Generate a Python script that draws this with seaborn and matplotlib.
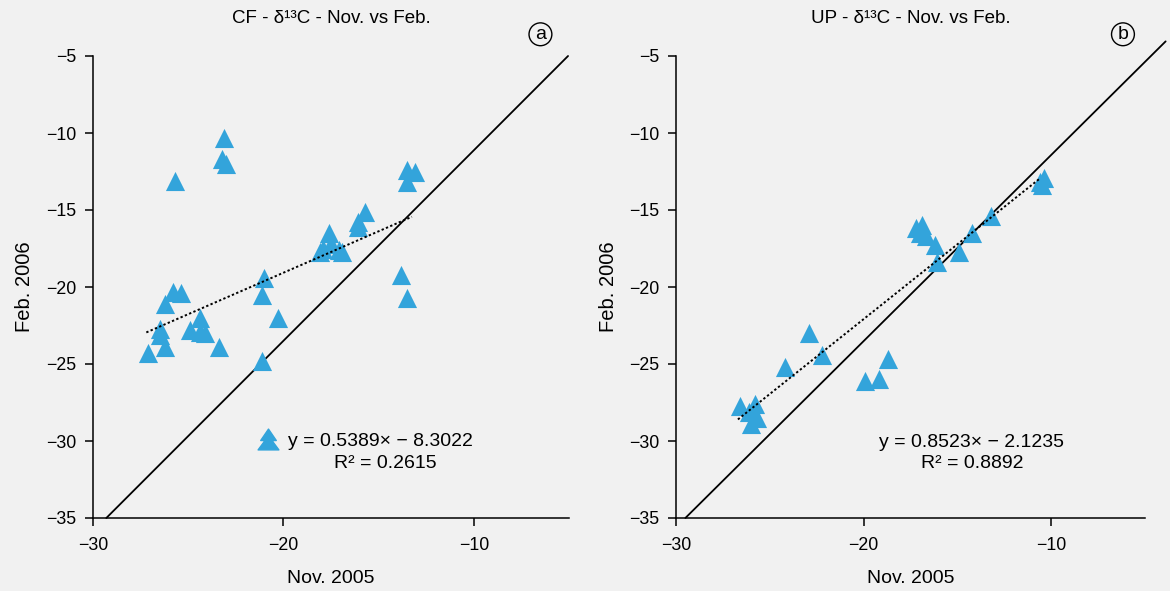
import numpy as np
import matplotlib as mpl
import matplotlib.pyplot as plt
import seaborn as sns
from matplotlib.lines import Line2D
from matplotlib.path import Path

# data (delta13C, per mil)
cf_nov = [-23.1, -23.2, -23.0, -25.7, -13.5, -13.1, -13.5, -15.7, -16.1, -16.1,
          -17.6, -17.9, -17.1, -17.5, -18.1, -16.9, -13.8, -13.5, -21.0, -21.1,
          -20.3, -21.1, -25.8, -25.4, -26.2, -26.5, -26.5, -26.2, -27.1, -24.4,
          -24.9, -24.4, -24.1, -23.4]
cf_feb = [-10.3, -11.7, -12.0, -13.1, -12.4, -12.5, -13.2, -15.1, -15.8, -16.1,
          -16.5, -17.5, -17.6, -17.2, -17.7, -17.7, -19.2, -20.7, -19.4, -20.5,
          -22.0, -24.8, -20.3, -20.4, -21.1, -22.7, -23.1, -23.9, -24.3, -22.0,
          -22.8, -22.9, -23.0, -23.9]
up_nov = [-10.4, -10.6, -10.5, -13.2, -14.2, -14.9, -17.2, -16.9, -17.0, -16.7,
          -16.2, -16.1, -22.9, -22.2, -24.2, -18.7, -19.9, -19.2, -26.6, -25.8,
          -26.1, -25.7, -26.0]
up_feb = [-12.9, -13.2, -13.4, -15.4, -16.5, -17.7, -16.2, -16.0, -16.5, -16.7,
          -17.3, -18.4, -23.0, -24.4, -25.2, -24.7, -26.1, -26.0, -27.7, -27.6,
          -28.1, -28.5, -28.9]

# trend lines and reference lines (end points)
cf_fit_x = [-27.2, -13.25]
cf_fit_y = [-22.95, -15.44]
up_fit_x = [-26.7, -10.6]
up_fit_y = [-28.6, -12.95]
cf_ref_x = [-29.3, -5.05]
cf_ref_y = [-35, -5]
up_ref_x = [-29.5, -3.9]
up_ref_y = [-35, -4.05]

titles = ['CF - δ¹³C - Nov. vs Feb.', 'UP - δ¹³C - Nov. vs Feb.']
eqs = ['y = 0.5389× − 8.3022', 'y = 0.8523× − 2.1235']
r2s = ['R² = 0.2615', 'R² = 0.8892']
panel_tags = ['a', 'b']
yticks = [-35, -30, -25, -20, -15, -10, -5]
xticks = [-30, -20, -10]

sns.set_style('ticks')
plt.rcParams['font.family'] = ['Liberation Sans', 'DejaVu Sans']
mpl.rcParams['axes.unicode_minus'] = True
mpl.rcParams['text.color'] = 'black'
mpl.rcParams['axes.labelcolor'] = 'black'
blue = '#33a4db'
bg = '#f1f1f1'
fs = 12.8

fig = plt.figure(figsize=(11.7, 5.91), dpi=100, facecolor=bg)
ax_a = fig.add_axes([93 / 1170, 73 / 591, 476 / 1170, 462 / 591])
ax_b = fig.add_axes([676 / 1170, 73 / 591, 469 / 1170, 462 / 591])

# two stacked triangles for the legend key
tree = Path([(0, 1), (-0.75, -0.1), (0.75, -0.1), (0, 1),
             (0, 0.35), (-1, -1), (1, -1), (0, 0.35)],
            [Path.MOVETO, Path.LINETO, Path.LINETO, Path.CLOSEPOLY] * 2)

sets = [(ax_a, cf_nov, cf_feb, cf_fit_x, cf_fit_y, cf_ref_x, cf_ref_y),
        (ax_b, up_nov, up_feb, up_fit_x, up_fit_y, up_ref_x, up_ref_y)]

for i, (ax, xs, ys, fx, fy, rx, ry) in enumerate(sets):
    ax.set_facecolor('none')
    ax.plot(rx, ry, color='black', lw=1.3, clip_on=False, zorder=2)
    sns.scatterplot(x=xs, y=ys, marker='^', color=blue, s=190, linewidth=0,
                    ax=ax, zorder=3, clip_on=False)
    ax.plot(fx, fy, color='black', lw=1.4, ls=(0, (1.2, 1.2)), zorder=4)

    ax.set_xlim(-30, -5)
    ax.set_ylim(-35, -5)
    ax.set_xticks(xticks)
    ax.set_yticks(yticks)
    sns.despine(ax=ax)
    for s in ['left', 'bottom']:
        ax.spines[s].set_linewidth(1.1)
        ax.spines[s].set_color('black')
    ax.tick_params(direction='out', length=6, width=1.1, color='black',
                   labelsize=fs, labelcolor='black')
    ax.tick_params(axis='y', pad=6)
    ax.tick_params(axis='x', pad=8)

    ax.set_title(titles[i], fontsize=13.5, pad=24, color='black')
    ax.text(0.5, -0.13, 'Nov. 2005', transform=ax.transAxes, ha='center',
            va='center', fontsize=14)
    ax.text(-0.143, 0.5, 'Feb. 2006', transform=ax.transAxes, ha='center',
            va='center', rotation=90, fontsize=14.5)
    ax.text(0.94 + 0.013 * i, 1.047, panel_tags[i], transform=ax.transAxes,
            ha='center', va='center', fontsize=14,
            bbox=dict(boxstyle='circle,pad=0.15', fc='none', ec='black', lw=1))

    ax.text(0.615 + 0.016 * i, 0.119, r2s[i], transform=ax.transAxes,
            ha='center', va='center', fontsize=14)

# panel a: equation with marker key
key = Line2D([], [], marker=tree, ls='none', color=blue, markersize=15)
ax_a.legend(handles=[key], labels=[eqs[0]], loc='center left',
            bbox_to_anchor=(0.345, 0.167), frameon=False, fontsize=14,
            borderpad=0, borderaxespad=0, handlelength=1.1, handletextpad=0.5)
# panel b: equation only
ax_b.text(0.631, 0.1645, eqs[1], transform=ax_b.transAxes, ha='center',
          va='center', fontsize=14)

plt.savefig('out.png', dpi=100, facecolor=bg)
